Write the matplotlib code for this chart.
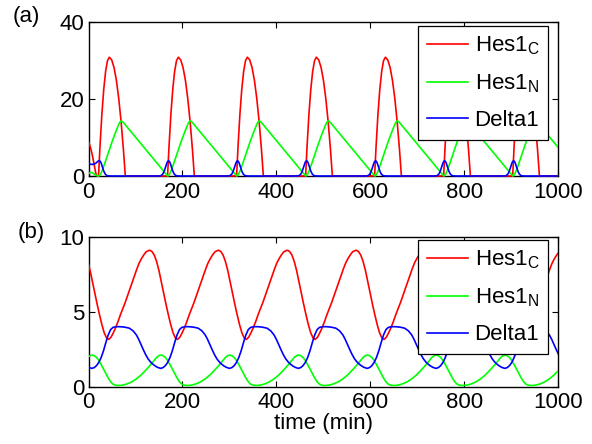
import numpy as np
import matplotlib
matplotlib.use("Agg")
import matplotlib.pyplot as plt
from matplotlib.transforms import Bbox, TransformedBbox

plt.rcParams['font.family'] = ['Liberation Sans', 'DejaVu Sans']
plt.rcParams['font.size'] = 16
plt.rcParams['mathtext.fontset'] = 'custom'
plt.rcParams['mathtext.rm'] = 'Liberation Sans'
plt.rcParams['mathtext.it'] = 'Liberation Sans:italic'

labels = ['Hes1$_\\mathregular{C}$', 'Hes1$_\\mathregular{N}$', 'Delta1']
colors = ['#ff0000', '#00ff00', '#0000ff']
xticks = [0, 200, 400, 600, 800, 1000]

# ---- panel (a): spiking regime ----
# times (min) of the Hes1_C peaks, each cycle drawn around them
a_peaks = [44.4, 191.4, 338.4, 485.4, 632.4, 779.4, 926.4]

hesc_a_off = [-23, -20, -16, -12, -8, -4, 0, 5, 10, 15, 20, 25, 30, 34]
hesc_a_val = [0, 7.5, 15.9, 22.4, 27.1, 29.9, 30.8, 30.1, 28.1, 24.8, 20.1, 14.1, 6.8, 0]
hesc_a_t0 = [0, 4, 8, 12, 15, 17, 19]
hesc_a_v0 = [8.9, 7.5, 5.5, 3.0, 1.0, 0.2, 0]
hesc_a_end = [1000, 0]

hesn_a_off = [-22, -19, -15, -10, -5, 0, 5, 10, 15, 19, 22, 25, 28, 31, 60, 90, 110, 118, 122]
hesn_a_val = [0, 0.4, 1.5, 3.2, 5.0, 6.8, 8.6, 10.3, 11.9, 13.1, 13.9, 14.3, 14.1, 13.7,
              9.45, 5.05, 2.1, 0.9, 0.35]
hesn_a_t0 = [0, 3, 7, 11, 15, 19]
hesn_a_v0 = [0.6, 0.9, 0.9, 0.6, 0.25, 0.05]

dll_a_off = [-45, -39, -36, -33, -30, -27, -24, -21, -18, -15, -12, -9, -6, -3, 3]
dll_a_val = [0, 0.04, 0.18, 0.54, 1.3, 2.43, 3.53, 4.0, 3.53, 2.43, 1.3, 0.54, 0.18, 0.04, 0]
dll_a_t0 = [0, 4, 8, 12, 16, 19, 21]
dll_a_v0 = [3.3, 3.05, 3.0, 3.1, 3.35, 3.7, 3.9]
dll_a_end = [1000, 0]

# ---- panel (b): smooth oscillations ----
hesc_b_min = [-103.6, 43, 189.6, 336.2, 482.8, 629.4, 776, 922.6]
hesc_b_off = [0, 5, 10, 15, 20, 25, 30, 35, 40, 45, 50, 55, 60, 65, 70, 75, 80, 87,
              92, 97, 102, 107, 112, 117, 122, 127, 132, 137, 142]
hesc_b_val = [3.15, 3.3, 3.6, 3.95, 4.35, 4.8, 5.2, 5.6, 6.05, 6.5, 6.95, 7.4, 7.85, 8.25,
              8.55, 8.8, 9.0, 9.1, 9.02, 8.78, 8.35, 7.75, 7.0, 6.25, 5.5, 4.8, 4.15, 3.6, 3.25]

# Hes1_N peaks and Delta1 minima line up
hesn_b_peak = [-139.6, 7, 153.6, 300.2, 446.8, 593.4, 740, 886.6, 1033.2]
hesn_b_off = [0, 5, 10, 15, 20, 25, 30, 35, 40, 45, 50, 55, 65, 75, 85, 95, 105, 115,
              125, 132, 138, 143]
hesn_b_val = [2.11, 2.07, 1.95, 1.75, 1.47, 1.17, 0.87, 0.58, 0.33, 0.17, 0.1, 0.08, 0.1,
              0.18, 0.32, 0.52, 0.78, 1.1, 1.45, 1.72, 1.95, 2.07]

dll_b_min = [-139.6, 7, 153.6, 300.2, 446.8, 593.4, 740, 886.6, 1033.2]
dll_b_off = [0, 5, 10, 15, 20, 25, 30, 35, 40, 45, 52, 60, 70, 80, 88, 95, 100, 105, 110,
             115, 120, 125, 130, 135, 140]
dll_b_val = [1.22, 1.27, 1.4, 1.62, 1.95, 2.4, 2.95, 3.45, 3.8, 3.95, 4.0, 4.0, 3.97, 3.9,
             3.72, 3.45, 3.15, 2.8, 2.45, 2.12, 1.85, 1.65, 1.5, 1.38, 1.29]


def cycles(times, off, val):
    t = np.concatenate([tc + np.array(off, dtype=float) for tc in times])
    v = np.tile(np.array(val, dtype=float), len(times))
    return t, v


def with_start(t0, v0, t, v, end=None):
    keep = t > t0[-1]
    t = np.concatenate([t0, t[keep]])
    v = np.concatenate([v0, v[keep]])
    if end is not None:
        keep = t < end[0]
        t = np.append(t[keep], end[0])
        v = np.append(v[keep], end[1])
    return t, v


ta, va = cycles(a_peaks, hesc_a_off, hesc_a_val)
hesc_a = with_start(hesc_a_t0, hesc_a_v0, ta, va, hesc_a_end)
ta, va = cycles(a_peaks, hesn_a_off, hesn_a_val)
hesn_a = with_start(hesn_a_t0, hesn_a_v0, ta, va)
ta, va = cycles(a_peaks, dll_a_off, dll_a_val)
dll_a = with_start(dll_a_t0, dll_a_v0, ta, va, dll_a_end)

hesc_b = cycles(hesc_b_min, hesc_b_off, hesc_b_val)
hesn_b = cycles(hesn_b_peak, hesn_b_off, hesn_b_val)
dll_b = cycles(dll_b_min, dll_b_off, dll_b_val)

fig = plt.figure(figsize=(5.92, 4.44), dpi=100)
ax1 = fig.add_axes([0.1495, 0.6036, 0.7931, 0.3475])
ax2 = fig.add_axes([0.1495, 0.1291, 0.7931, 0.3378])


def panel(ax, series, ylim, yticks, legend_top):
    for (t, v), c, lab in zip(series, colors, labels):
        line, = ax.plot(t, v, color=c, lw=1.2, label=lab, zorder=3)
        # clip only left/right so the zero lines sit on the axis
        line.set_clip_path(None)
        line.set_clip_box(TransformedBbox(Bbox([[0, -0.05], [1, 1.05]]), ax.transAxes))
    ax.set_xlim(0, 1000)
    ax.set_ylim(*ylim)
    ax.set_xticks(xticks)
    ax.set_yticks(yticks)
    ax.tick_params(direction='in', top=True, right=True, length=4, width=0.8)
    ax.tick_params(axis='x', pad=4)
    ax.tick_params(axis='y', pad=3)
    for s in ax.spines.values():
        s.set_linewidth(1.0)
    leg = ax.legend(loc='upper right', bbox_to_anchor=(0.979, legend_top), borderaxespad=0,
                    fancybox=False, framealpha=1, edgecolor='black', handlelength=1.85,
                    handletextpad=0.3, labelspacing=0.68, borderpad=0.4)
    leg.get_frame().set_linewidth(0.9)
    leg.set_zorder(5)


panel(ax1, [hesc_a, hesn_a, dll_a], (0, 40), [0, 20, 40], 0.974)
panel(ax2, [hesc_b, hesn_b, dll_b], (0, 10), [0, 5, 10], 0.978)

ax2.set_xlabel('time (min)', labelpad=0)
fig.text(0.022, 0.962, '(a)', va='center', ha='left')
fig.text(0.029, 0.477, '(b)', va='center', ha='left')

fig.savefig('out.png', dpi=100)
